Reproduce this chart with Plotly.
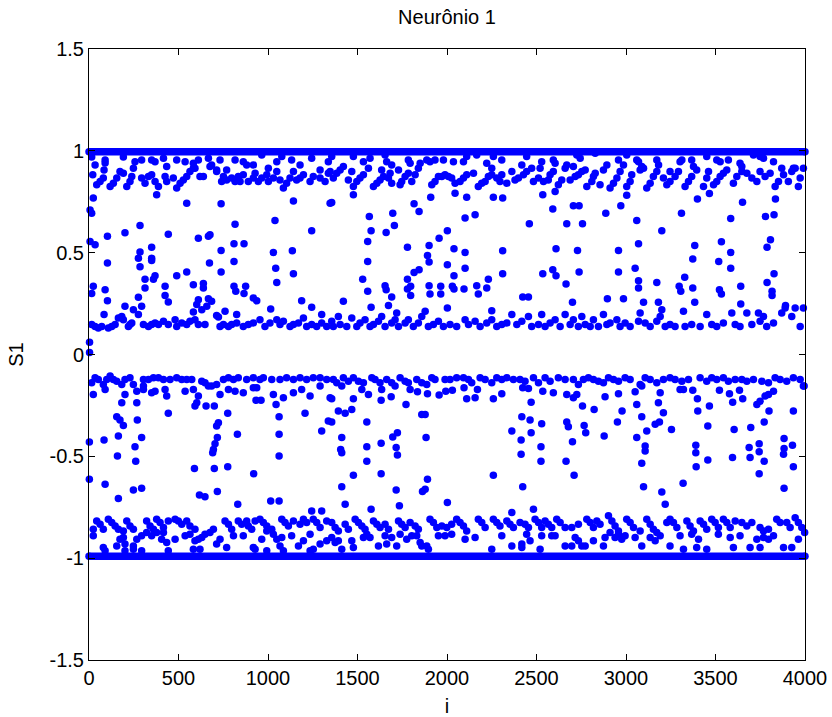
import plotly.graph_objects as go

# ---- axis ticks ----
X_TICKS = [0, 500, 1000, 1500, 2000, 2500, 3000, 3500, 4000]
Y_TICKS = [-1.5, -1, -0.5, 0, 0.5, 1, 1.5]
Y_TICK_TEXT = ["-1.5", "-1", "-0.5", "0", "0.5", "1", "1.5"]

# ---- saturated levels (the two dense rows of dots) ----
SAT_I = [0, 4000]
SAT_HIGH = [0.995, 0.995]
SAT_LOW = [-0.99, -0.99]

# ---- scattered points, positive half (i, S1) ----
upper_left = [
    (15,0.97),(34,0.93),(90,0.955),(90,0.94),(192,0.97),(257,0.947),(248,0.915),(294,0.955),(350,0.955),(369,0.947),
    (416,0.964),(434,0.923),(490,0.955),(537,0.947),(583,0.939),(592,0.915),(611,0.955),(667,0.964),(676,0.923),(713,0.906),
    (732,0.955),(769,0.906),(816,0.955),(862,0.947),(881,0.931),(918,0.931),(965,0.98),(1002,0.915),(1049,0.947),(1077,0.972),
    (1132,0.955),(1179,0.931),(1244,0.964),(1291,0.906),(1337,0.947),
    (21,0.882),(43,0.833),(62,0.849),(80,0.866),(84,0.906),(118,0.825),(136,0.841),(155,0.866),(173,0.898),(192,0.89),
    (211,0.825),(229,0.849),(239,0.874),(294,0.866),(313,0.841),(332,0.874),(350,0.882),(369,0.849),(388,0.825),(378,0.784),
    (425,0.874),(434,0.849),(471,0.866),(490,0.817),(509,0.841),(527,0.857),(546,0.874),(564,0.898),(583,0.915),(620,0.874),
    (639,0.874),(685,0.931),(713,0.898),(741,0.849),(751,0.874),(769,0.857),(797,0.866),(816,0.849),(834,0.874),(844,0.849),
    (862,0.882),(890,0.849),(918,0.866),(928,0.89),(946,0.849),(965,0.866),(993,0.882),(1002,0.849),(1030,0.866),(1049,0.898),
    (1067,0.857),(1086,0.817),(1104,0.841),(1123,0.866),(1142,0.898),(1160,0.857),(1179,0.866),(1198,0.882),(1235,0.849),
    (1253,0.874),(1291,0.866),(1319,0.849),(1337,0.89),
    (24,0.768),(6,0.71),(15,0.694),(546,0.743),(738,0.74),(1142,0.754),(1347,0.743),(1039,0.658),(816,0.64),(285,0.634),
    (1244,0.607),(103,0.58),(201,0.598),(443,0.591),(611,0.571),(667,0.58),(676,0.588),(6,0.555),(34,0.539),(350,0.527),
    (285,0.503),(276,0.473),(350,0.473),(350,0.462),(810,0.544),(866,0.544),(738,0.511),(1030,0.501),(1136,0.509),(103,0.449),
    (285,0.431),(673,0.449),(810,0.457),(1043,0.423),(1142,0.397),(546,0.405),(738,0.405),(490,0.387),(369,0.387),(360,0.37),
    (313,0.37),(1049,0.354),(24,0.335),(15,0.299),(90,0.318),(313,0.326),(425,0.335),(583,0.343),(639,0.348),(639,0.326),
    (810,0.335),(820,0.31),(875,0.335),(866,0.299),(103,0.264),(276,0.281),(425,0.29),(443,0.258),(611,0.269),(667,0.274),
    (685,0.261),(658,0.237),(602,0.245),(918,0.277),(937,0.264),(1188,0.264),(201,0.237),(248,0.22),(294,0.237),(583,0.209),
    (630,0.22),(760,0.212),(1015,0.223),(1244,0.232),(84,0.196),(276,0.196),(713,0.192),(723,0.184),(825,0.196),(1300,0.196),
    (3,0.06),(3,0.01),
    (15,0.147),(34,0.138),(52,0.13),(71,0.138),(108,0.13),(127,0.138),(146,0.147),(164,0.179),(183,0.187),(192,0.171),
    (220,0.138),(229,0.147),(239,0.155),(304,0.147),(332,0.138),(350,0.147),(369,0.155),(388,0.147),(416,0.163),(443,0.147),
    (481,0.171),(490,0.138),(518,0.155),(546,0.147),(564,0.163),(592,0.171),(611,0.147),(648,0.147),(732,0.138),(751,0.147),
    (779,0.138),(797,0.147),(825,0.155),(862,0.138),(890,0.147),(918,0.155),(955,0.171),(983,0.138),(1011,0.155),(1049,0.171),
    (1067,0.147),(1086,0.163),(1123,0.138),(1142,0.147),(1170,0.155),(1198,0.179),(1216,0.138),(1244,0.147),(1272,0.138),
    (1300,0.155),(1328,0.138),
]

upper_mid = [
    (1356,0.972),(1477,0.972),(1533,0.947),(1570,0.964),(1654,0.98),(1663,0.947),(1691,0.931),(1729,0.906),(1784,0.955),
    (1794,0.939),(1850,0.939),(1887,0.955),(1905,0.947),(1933,0.955),(1980,0.955),(2036,0.947),(2092,0.947),(2110,0.972),
    (2166,0.98),(2222,0.939),(2250,0.915),(2259,0.972),(2306,0.955),(2418,0.931),(2445,0.972),(2473,0.915),(2529,0.947),
    (2594,0.955),(2604,0.939),(2669,0.931),
    (1347,0.898),(1365,0.866),(1384,0.89),(1403,0.906),(1421,0.923),(1449,0.857),(1468,0.898),(1477,0.825),(1496,0.849),
    (1514,0.866),(1533,0.882),(1561,0.915),(1589,0.825),(1608,0.841),(1626,0.857),(1635,0.906),(1645,0.874),(1673,0.866),
    (1682,0.89),(1691,0.841),(1738,0.833),(1747,0.849),(1766,0.874),(1784,0.89),(1803,0.849),(1822,0.882),(1840,0.915),
    (1915,0.833),(1933,0.849),(1952,0.874),(1971,0.874),(1989,0.882),(2008,0.874),(2026,0.866),(2045,0.841),(2073,0.849),
    (2092,0.866),(2110,0.882),(2148,0.89),(2175,0.825),(2194,0.841),(2213,0.849),(2231,0.874),(2250,0.882),(2278,0.866),
    (2296,0.849),(2306,0.882),(2334,0.841),(2362,0.898),(2380,0.857),(2399,0.866),(2427,0.882),(2445,0.898),(2483,0.849),
    (2511,0.866),(2520,0.915),(2539,0.849),(2566,0.857),(2576,0.882),(2594,0.898),(2622,0.833),(2641,0.857),(2660,0.915),
    (1356,0.746),(1477,0.784),(1566,0.678),(1576,0.607),(1557,0.555),(1557,0.457),(1529,0.37),(1557,0.31),(1576,0.232),
    (1421,0.261),(1697,0.694),(1706,0.634),(1660,0.599),(1654,0.338),(1660,0.318),(1691,0.282),(1673,0.24),(1719,0.204),
    (1816,0.74),(1844,0.702),(1909,0.772),(1779,0.527),(1779,0.37),(1779,0.321),(1797,0.335),(1797,0.29),(1816,0.403),
    (1844,0.416),(1900,0.535),(1891,0.486),(1900,0.454),(1900,0.338),(1905,0.297),(1956,0.571),(1965,0.335),(1965,0.297),
    (2002,0.607),(2002,0.441),(2002,0.228),(2039,0.519),(2039,0.387),(2030,0.335),(2039,0.321),(2095,0.321),(2045,0.792),
    (2110,0.772),(2101,0.67),(2101,0.501),(2101,0.424),(2157,0.686),(2166,0.338),(2175,0.297),(2222,0.326),(2231,0.37),
    (2259,0.772),(2311,0.768),(2311,0.509),(2311,0.397),(2250,0.215),(2423,0.282),(2455,0.282),(2460,0.642),(2535,0.784),
    (2535,0.397),(2591,0.714),(2609,0.519),(2591,0.416),(2609,0.387),(2665,0.346),(2669,0.642),(2604,0.8),
    (1356,0.163),(1365,0.138),(1393,0.187),(1403,0.147),(1440,0.138),(1468,0.179),(1496,0.138),(1514,0.155),(1542,0.171),
    (1570,0.138),(1589,0.147),(1617,0.163),(1635,0.187),(1654,0.138),(1691,0.155),(1710,0.171),(1729,0.138),(1766,0.155),
    (1784,0.171),(1812,0.138),(1840,0.155),(1859,0.187),(1878,0.212),(1896,0.138),(1924,0.147),(1952,0.163),(1980,0.138),
    (2017,0.147),(2054,0.138),(2101,0.171),(2120,0.147),(2157,0.163),(2185,0.138),(2222,0.155),(2250,0.171),(2278,0.138),
    (2306,0.147),(2334,0.155),(2362,0.196),(2390,0.147),(2418,0.163),(2455,0.187),(2473,0.138),(2511,0.147),(2529,0.196),
    (2548,0.138),(2576,0.155),(2604,0.171),(2632,0.138),(2660,0.196),
]

upper_right = [
    (2725,0.98),(2744,0.964),(2706,0.923),(2828,0.988),(2893,0.931),(2958,0.955),(2986,0.931),(3004,0.98),(3060,0.955),
    (3070,0.947),(3098,0.915),(3172,0.955),(3182,0.931),(3246,0.898),(3302,0.947),(3312,0.955),(3367,0.955),(3377,0.923),
    (3451,0.972),(3507,0.955),(3526,0.947),(3572,0.955),(3637,0.939),(3647,0.923),(3712,0.98),(3749,0.972),(3768,0.964),
    (3824,0.947),(3870,0.915),(3935,0.915),(3991,0.915),
    (2688,0.857),(2716,0.874),(2734,0.882),(2753,0.898),(2772,0.906),(2781,0.825),(2809,0.849),(2818,0.874),(2828,0.89),
    (2855,0.833),(2874,0.906),(2911,0.817),(2930,0.841),(2949,0.866),(2967,0.898),(3004,0.825),(3023,0.849),(3032,0.882),
    (3079,0.906),(3088,0.923),(3116,0.817),(3135,0.841),(3153,0.874),(3172,0.898),(3209,0.866),(3228,0.833),(3246,0.849),
    (3274,0.874),(3293,0.898),(3330,0.825),(3349,0.849),(3367,0.874),(3395,0.906),(3433,0.825),(3451,0.866),(3461,0.898),
    (3489,0.833),(3507,0.849),(3526,0.874),(3544,0.89),(3563,0.906),(3600,0.841),(3619,0.874),(3647,0.898),(3675,0.89),
    (3703,0.866),(3731,0.849),(3749,0.898),(3777,0.874),(3805,0.89),(3833,0.825),(3852,0.849),(3880,0.882),(3907,0.849),
    (3926,0.898),(3945,0.915),(3963,0.825),(3973,0.866),
    (2706,0.73),(2738,0.73),(2757,0.642),(2729,0.511),(2738,0.405),(2701,0.256),(2887,0.694),(2971,0.73),(3004,0.782),
    (2958,0.511),(2958,0.405),(2896,0.274),(2986,0.274),(3060,0.658),(3070,0.544),(3051,0.423),(3070,0.362),(3070,0.326),
    (3098,0.256),(3172,0.354),(3181,0.256),(3200,0.22),(3200,0.607),(3310,0.694),(3297,0.335),(3306,0.31),(3328,0.379),
    (3373,0.469),(3384,0.535),(3373,0.326),(3384,0.256),(3399,0.764),(3466,0.79),(3518,0.457),(3533,0.553),(3522,0.318),
    (3533,0.297),(3585,0.668),(3585,0.501),(3585,0.423),(3641,0.335),(3641,0.248),(3651,0.748),(3779,0.678),(3827,0.686),
    (3835,0.764),(3807,0.563),(3788,0.527),(3827,0.397),(3788,0.354),(3816,0.31),(3816,0.29),(3891,0.24),
    (2688,0.147),(2706,0.171),(2734,0.138),(2753,0.187),(2772,0.147),(2800,0.138),(2818,0.171),(2846,0.138),(2874,0.196),
    (2893,0.147),(2911,0.155),(2949,0.171),(2967,0.138),(2995,0.155),(3023,0.138),(3070,0.163),(3079,0.204),(3107,0.155),
    (3135,0.138),(3172,0.163),(3191,0.187),(3219,0.138),(3246,0.147),(3274,0.138),(3321,0.212),(3330,0.138),(3367,0.147),
    (3414,0.138),(3451,0.196),(3479,0.147),(3507,0.138),(3544,0.155),(3591,0.204),(3610,0.147),(3637,0.138),(3675,0.204),
    (3703,0.147),(3740,0.204),(3749,0.163),(3768,0.187),(3786,0.138),(3824,0.155),(3870,0.204),(3889,0.228),(3926,0.187),
    (3945,0.228),(3973,0.138),(3991,0.228),
]

# ---- scattered points, negative half (i, S1) ----
lower_left = [
    (15,-0.139),(34,-0.114),(52,-0.123),(80,-0.147),(99,-0.123),(118,-0.106),(136,-0.123),(155,-0.131),(183,-0.147),
    (201,-0.123),(229,-0.114),(248,-0.147),(304,-0.155),(304,-0.123),(332,-0.123),(360,-0.114),(388,-0.114),(416,-0.123),
    (453,-0.123),(490,-0.114),(518,-0.123),(546,-0.123),(574,-0.123),(630,-0.131),(648,-0.139),(685,-0.155),(713,-0.147),
    (751,-0.123),(779,-0.114),(807,-0.123),(834,-0.114),(881,-0.123),(918,-0.114),(955,-0.123),(974,-0.114),(1021,-0.123),
    (1067,-0.123),(1104,-0.114),(1142,-0.123),(1179,-0.114),(1216,-0.123),(1253,-0.114),(1291,-0.114),(1328,-0.123),
    (24,-0.196),(90,-0.172),(201,-0.196),(267,-0.18),(304,-0.172),(350,-0.188),(369,-0.18),(425,-0.172),(434,-0.204),
    (537,-0.18),(583,-0.172),(611,-0.204),(667,-0.155),(732,-0.196),(779,-0.172),(816,-0.18),(862,-0.188),(918,-0.163),
    (937,-0.163),(1030,-0.196),(1086,-0.212),(1142,-0.188),(1188,-0.172),(1235,-0.204),(1291,-0.155),(1347,-0.212),
    (183,-0.237),(267,-0.237),(592,-0.253),(602,-0.237),(654,-0.253),(700,-0.253),(1045,-0.245),(933,-0.225),(961,-0.225),
    (443,-0.289),(1207,-0.289),(155,-0.306),(173,-0.322),(192,-0.348),(270,-0.322),(775,-0.289),(713,-0.351),(723,-0.335),
    (1062,-0.306),(1300,-0.376),(1337,-0.327),(164,-0.4),(84,-0.42),(294,-0.408),(257,-0.453),(2,-0.43),(829,-0.392),
    (717,-0.408),(704,-0.438),(695,-0.466),(691,-0.482),(1062,-0.392),(159,-0.498),(261,-0.524),(1062,-0.498),(2,-0.613),
    (589,-0.56),(700,-0.56),(775,-0.551),(920,-0.585),(90,-0.637),(248,-0.665),(294,-0.657),(164,-0.707),(617,-0.69),
    (648,-0.699),(717,-0.673),(831,-0.735),(1015,-0.719),(1062,-0.719),(1244,-0.768),(1300,-0.768),
    (43,-0.817),(62,-0.833),(80,-0.858),(108,-0.809),(127,-0.825),(146,-0.842),(164,-0.858),(192,-0.866),(211,-0.817),
    (229,-0.842),(248,-0.858),(322,-0.817),(341,-0.842),(360,-0.858),(378,-0.809),(397,-0.825),(416,-0.85),(443,-0.817),
    (481,-0.809),(499,-0.817),(518,-0.833),(546,-0.817),(564,-0.842),(592,-0.858),(760,-0.817),(779,-0.833),(797,-0.858),
    (834,-0.817),(853,-0.833),(881,-0.817),(890,-0.842),(909,-0.858),(928,-0.817),(955,-0.809),(974,-0.825),(993,-0.842),
    (1021,-0.858),(1077,-0.809),(1095,-0.825),(1114,-0.842),(1142,-0.817),(1179,-0.833),(1198,-0.809),(1216,-0.825),
    (1253,-0.809),(1272,-0.825),(1291,-0.85),(1328,-0.817),
    (24,-0.858),(24,-0.89),(80,-0.948),(155,-0.94),(173,-0.907),(192,-0.899),(201,-0.931),(248,-0.94),(267,-0.907),
    (294,-0.89),(322,-0.874),(350,-0.89),(378,-0.874),(406,-0.907),(416,-0.874),(434,-0.923),(481,-0.907),(537,-0.89),
    (564,-0.882),(592,-0.915),(611,-0.907),(630,-0.899),(648,-0.882),(676,-0.874),(695,-0.858),(713,-0.931),(732,-0.907),
    (769,-0.948),(807,-0.89),(862,-0.89),(918,-0.948),(965,-0.907),(993,-0.866),(1030,-0.882),(1049,-0.907),(1067,-0.94),
    (1077,-0.899),(1132,-0.89),(1170,-0.94),(1198,-0.915),(1235,-0.882),(1253,-0.956),(1291,-0.931),(1328,-0.915),
    (90,-0.964),(201,-0.964),(248,-0.956),(294,-0.964),(443,-0.964),(583,-0.956),(620,-0.956),(928,-0.956),(993,-0.964),
    (1086,-0.964),(1235,-0.964),
]

lower_mid = [
    (1365,-0.123),(1384,-0.139),(1421,-0.114),(1449,-0.131),(1477,-0.114),(1505,-0.131),(1533,-0.139),(1580,-0.114),
    (1598,-0.123),(1626,-0.139),(1663,-0.123),(1691,-0.139),(1738,-0.114),(1766,-0.131),(1784,-0.139),(1831,-0.123),
    (1859,-0.139),(1887,-0.147),(1915,-0.114),(1933,-0.123),(1989,-0.123),(2017,-0.123),(2054,-0.114),(2092,-0.114),
    (2120,-0.123),(2138,-0.139),(2185,-0.114),(2213,-0.123),(2250,-0.139),(2278,-0.114),(2306,-0.123),(2334,-0.114),
    (2371,-0.123),(2408,-0.123),(2436,-0.131),(2483,-0.114),(2511,-0.139),(2548,-0.114),(2576,-0.131),(2622,-0.114),
    (2660,-0.123),
    (1356,-0.217),(1412,-0.155),(1477,-0.217),(1524,-0.172),(1561,-0.196),(1635,-0.172),(1632,-0.225),(1688,-0.207),
    (1710,-0.155),(1794,-0.172),(1835,-0.183),(1891,-0.193),(1956,-0.199),(1993,-0.18),(2030,-0.175),(2095,-0.163),
    (2110,-0.217),(2157,-0.212),(2170,-0.172),(2259,-0.217),(2306,-0.193),(2423,-0.163),(2455,-0.167),(2535,-0.18),
    (2594,-0.188),(2669,-0.196),
    (1393,-0.278),(1431,-0.289),(1468,-0.27),(1356,-0.332),(1552,-0.332),(1412,-0.408),(1406,-0.466),(1412,-0.482),
    (1552,-0.453),(1552,-0.524),(1477,-0.593),(1412,-0.649),(1431,-0.735),(1576,-0.76),(1632,-0.436),(1632,-0.585),
    (1697,-0.405),(1723,-0.384),(1716,-0.457),(1723,-0.493),(1716,-0.665),(1734,-0.743),(1771,-0.245),(1859,-0.294),
    (1878,-0.294),(1883,-0.408),(1891,-0.613),(1878,-0.662),(1863,-0.673),(2002,-0.727),(2259,-0.593),(2362,-0.376),
    (2418,-0.306),(2414,-0.42),(2414,-0.49),(2464,-0.322),(2470,-0.384),(2529,-0.34),(2525,-0.453),(2525,-0.524),
    (2470,-0.234),(2423,-0.649),(2669,-0.332),(2665,-0.524),(2362,-0.776),(2483,-0.76),
    (1356,-0.825),(1375,-0.85),(1393,-0.866),(1431,-0.833),(1449,-0.858),(1487,-0.809),(1505,-0.825),(1524,-0.842),
    (1542,-0.858),(1589,-0.817),(1608,-0.833),(1626,-0.85),(1654,-0.833),(1673,-0.858),(1729,-0.817),(1747,-0.833),
    (1766,-0.85),(1794,-0.825),(1822,-0.842),(1840,-0.858),(1905,-0.809),(1924,-0.825),(1943,-0.85),(1971,-0.842),
    (1999,-0.85),(2026,-0.833),(2054,-0.809),(2073,-0.825),(2092,-0.842),(2110,-0.866),(2175,-0.809),(2194,-0.825),
    (2213,-0.85),(2259,-0.809),(2278,-0.825),(2296,-0.842),(2334,-0.817),(2352,-0.833),(2371,-0.85),(2408,-0.825),
    (2436,-0.833),(2455,-0.85),(2492,-0.809),(2511,-0.825),(2529,-0.85),(2548,-0.817),(2566,-0.833),(2585,-0.85),
    (2613,-0.809),(2632,-0.825),(2660,-0.85),
    (1356,-0.899),(1375,-0.923),(1393,-0.915),(1412,-0.956),(1468,-0.915),(1477,-0.948),(1533,-0.899),(1552,-0.882),
    (1570,-0.899),(1617,-0.94),(1654,-0.89),(1663,-0.931),(1691,-0.899),(1719,-0.94),(1738,-0.882),(1775,-0.907),
    (1803,-0.89),(1831,-0.89),(1850,-0.923),(1859,-0.94),(1887,-0.94),(1896,-0.956),(1952,-0.89),(1989,-0.89),
    (2026,-0.882),(2101,-0.907),(2157,-0.899),(2250,-0.956),(2306,-0.89),(2362,-0.94),(2418,-0.931),(2418,-0.948),
    (2445,-0.882),(2464,-0.915),(2520,-0.956),(2529,-0.89),(2585,-0.89),(2604,-0.89),(2660,-0.94),
]

lower_right = [
    (2706,-0.123),(2734,-0.147),(2762,-0.123),(2790,-0.114),(2818,-0.123),(2846,-0.131),(2874,-0.139),(2902,-0.114),
    (2930,-0.123),(2958,-0.131),(2995,-0.114),(3023,-0.123),(3079,-0.147),(3107,-0.114),(3135,-0.123),(3172,-0.139),
    (3209,-0.123),(3246,-0.114),(3274,-0.123),(3312,-0.131),(3349,-0.123),(3414,-0.114),(3451,-0.131),(3479,-0.114),
    (3507,-0.123),(3544,-0.114),(3572,-0.131),(3610,-0.123),(3647,-0.123),(3675,-0.131),(3712,-0.123),(3759,-0.131),
    (3796,-0.139),(3833,-0.114),(3861,-0.123),(3898,-0.131),(3935,-0.114),(3973,-0.123),(3991,-0.155),
    (2706,-0.212),(2725,-0.196),(2883,-0.207),(2958,-0.193),(3051,-0.183),(3060,-0.245),(3088,-0.155),(3181,-0.237),
    (3191,-0.188),(3302,-0.172),(3321,-0.172),(3373,-0.175),(3399,-0.217),(3466,-0.253),(3522,-0.175),(3578,-0.193),
    (3596,-0.234),(3634,-0.175),(3652,-0.217),(3731,-0.245),(3749,-0.229),(3777,-0.204),(3796,-0.196),(3824,-0.18),
    (3935,-0.278),(3995,-0.155),
    (2757,-0.253),(2822,-0.27),(2978,-0.278),(3088,-0.306),(3060,-0.408),(3107,-0.449),(3107,-0.474),(3088,-0.534),
    (3116,-0.376),(3163,-0.343),(3187,-0.332),(3209,-0.286),(3254,-0.368),(2710,-0.593),(2678,-0.355),(2766,-0.348),
    (2775,-0.384),(2701,-0.428),(2878,-0.4),(2952,-0.332),(3098,-0.649),(3200,-0.675),(3219,-0.735),(3319,-0.632),
    (3390,-0.446),(3390,-0.482),(3392,-0.551),(3401,-0.278),(3457,-0.351),(3457,-0.518),(3595,-0.506),(3604,-0.368),
    (3688,-0.457),(3693,-0.506),(3697,-0.359),(3744,-0.438),(3744,-0.477),(3744,-0.585),(3772,-0.524),(3799,-0.278),
    (3772,-0.332),(3883,-0.412),(3883,-0.461),(3880,-0.49),(3883,-0.657),(3930,-0.446),(3935,-0.551),
    (2697,-0.85),(2734,-0.833),(2781,-0.809),(2800,-0.825),(2818,-0.85),(2837,-0.817),(2855,-0.833),(2902,-0.792),
    (2921,-0.817),(2939,-0.842),(2958,-0.866),(3004,-0.809),(3023,-0.825),(3042,-0.85),(3116,-0.809),(3135,-0.833),
    (3153,-0.858),(3172,-0.874),(3228,-0.825),(3246,-0.809),(3265,-0.825),(3284,-0.85),(3340,-0.817),(3358,-0.842),
    (3377,-0.866),(3414,-0.817),(3433,-0.833),(3451,-0.858),(3479,-0.809),(3498,-0.825),(3516,-0.85),(3544,-0.809),
    (3563,-0.825),(3582,-0.85),(3610,-0.817),(3647,-0.825),(3675,-0.842),(3703,-0.825),(3749,-0.85),(3768,-0.866),
    (3796,-0.858),(3842,-0.809),(3861,-0.825),(3898,-0.825),(3917,-0.85),(3945,-0.801),(3963,-0.825),(3982,-0.85),
    (2697,-0.94),(2716,-0.899),(2734,-0.915),(2753,-0.94),(2772,-0.94),(2818,-0.915),(2874,-0.94),(2883,-0.899),
    (2911,-0.874),(2939,-0.899),(2958,-0.882),(2976,-0.907),(2995,-0.89),(3051,-0.899),(3079,-0.866),(3088,-0.94),
    (3135,-0.899),(3163,-0.915),(3191,-0.89),(3246,-0.94),(3302,-0.89),(3321,-0.956),(3367,-0.882),(3395,-0.948),
    (3405,-0.907),(3451,-0.956),(3516,-0.882),(3582,-0.899),(3600,-0.948),(3637,-0.89),(3693,-0.948),(3731,-0.907),
    (3749,-0.948),(3768,-0.899),(3796,-0.907),(3824,-0.89),(3880,-0.948),(3926,-0.948),(3963,-0.907),(3998,-0.874),
]

BLUE = "#0000ff"
FONT = "Liberation Sans, Arial, Helvetica, sans-serif"

points = upper_left + upper_mid + upper_right + lower_left + lower_mid + lower_right
pts_i = [p[0] for p in points]
pts_s = [p[1] for p in points]

fig = go.Figure()
for level in (SAT_HIGH, SAT_LOW):
    fig.add_trace(go.Scatter(
        x=SAT_I, y=level, mode="lines+markers",
        line=dict(color=BLUE, width=7.5),
        marker=dict(color=BLUE, size=7.5, line=dict(width=0)),
        cliponaxis=False, hoverinfo="skip", showlegend=False,
    ))
fig.add_trace(go.Scatter(
    x=pts_i, y=pts_s, mode="markers",
    marker=dict(color=BLUE, size=7.5, line=dict(width=0)),
    cliponaxis=False, showlegend=False,
))

axis_common = dict(
    showline=True, linecolor="black", linewidth=1, mirror="allticks",
    ticks="inside", ticklen=6, tickcolor="black", tickwidth=1,
    showgrid=False, zeroline=False, automargin=False,
    tickfont=dict(family=FONT, size=20, color="black"),
)

fig.update_layout(
    width=832, height=717,
    margin=dict(l=89, r=27, t=49, b=57),
    paper_bgcolor="white", plot_bgcolor="white",
    font=dict(family=FONT, size=20, color="black"),
    title=dict(text="Neurônio 1", x=0.5, xref="paper", xanchor="center",
               y=1 - 17 / 717, yref="container", yanchor="middle",
               font=dict(family=FONT, size=20, color="black")),
    xaxis=dict(range=[0, 4000], tickvals=X_TICKS, ticktext=[str(v) for v in X_TICKS],
               title=dict(text="i", font=dict(family=FONT, size=20), standoff=14),
               **axis_common),
    yaxis=dict(range=[-1.5, 1.5], tickvals=Y_TICKS, ticktext=Y_TICK_TEXT,
               title=dict(text="S1", font=dict(family=FONT, size=20), standoff=20),
               **axis_common),
)

fig.write_html("out.html")
